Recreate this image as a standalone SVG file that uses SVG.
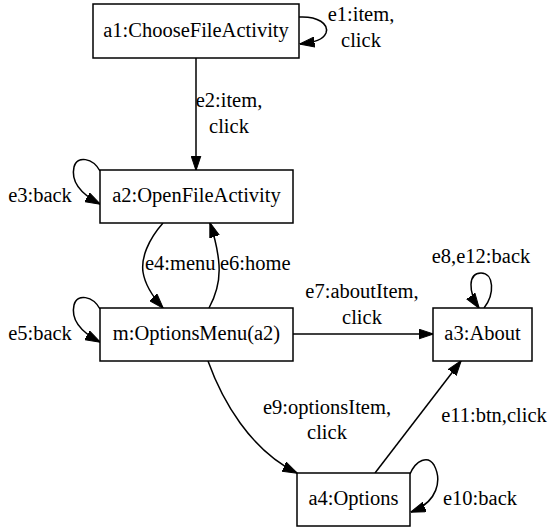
<svg xmlns="http://www.w3.org/2000/svg" width="548" height="529" viewBox="0 0 548 529">
<style>
  .node rect { fill: #ffffff; stroke: #000000; stroke-width: 1.5; }
  text { font-family: "Liberation Serif", "Times New Roman", serif; font-size: 20.5px; fill: #000000; }
  .node text { text-anchor: middle; }
  .edge path { fill: none; stroke: #000000; stroke-width: 1.5; marker-end: url(#arrow); }
  .lbl { text-anchor: middle; }
</style>
<defs>
  <marker id="arrow" markerUnits="userSpaceOnUse" markerWidth="15" markerHeight="11" viewBox="0 0 15 11" refX="14.5" refY="5.5" orient="auto">
    <path d="M0,0.5 L15,5.5 L0,10.5 z" fill="#000000" stroke="#000000" stroke-width="1"/>
  </marker>
</defs>
<rect width="548" height="529" fill="#ffffff"/>

<g id="connectors" class="edge">
  <!-- e1 self loop on a1 -->
  <path d="M299,17 C318,16 329,24 326,33 C323,40 315,42 300,44"/>
  <!-- e2 a1 -> a2 -->
  <path d="M196,58 L196,170"/>
  <!-- e3 self loop on a2 -->
  <path d="M100,171 C93,158 77,155 74,167 C71,180 79,193 100,204"/>
  <!-- e4 a2 -> m -->
  <path d="M163,223 C148,240 141,258 143,272 C145,285 153,297 163,308"/>
  <!-- e6 m -> a2 -->
  <path d="M209,308 C216,295 220,280 219,265 C218,250 215,238 210,223"/>
  <!-- e5 self loop on m -->
  <path d="M100,309 C93,296 77,293 74,305 C71,318 79,331 100,342"/>
  <!-- e7 m -> a3 -->
  <path d="M293,334 L433,334"/>
  <!-- e8,e12 self loop on a3 -->
  <path d="M484,308 C495,294 494,273 481,273 C468,273 468,292 479,308"/>
  <!-- e9 m -> a4 -->
  <path d="M208,361 C222,400 250,450 297,473"/>
  <!-- e11 a4 -> a3 -->
  <path d="M375,473 L461,361"/>
  <!-- e10 self loop on a4 -->
  <path d="M410,474 C416,460 428,455 434,465 C442,480 438,502 411,512"/>
</g>

<g id="edge-labels">
  <text class="lbl" x="361" y="21">e1:item,</text>
  <text class="lbl" x="361" y="47">click</text>
  <text class="lbl" x="229" y="107">e2:item,</text>
  <text class="lbl" x="229" y="133">click</text>
  <text class="lbl" x="40" y="202">e3:back</text>
  <text x="145" y="270">e4:menu</text>
  <text x="220" y="270">e6:home</text>
  <text class="lbl" x="40" y="340">e5:back</text>
  <text class="lbl" x="362" y="298">e7:aboutItem,</text>
  <text class="lbl" x="362" y="324">click</text>
  <text class="lbl" x="481" y="263">e8,e12:back</text>
  <text class="lbl" x="327" y="414">e9:optionsItem,</text>
  <text class="lbl" x="327" y="439">click</text>
  <text class="lbl" x="494" y="422">e11:btn,click</text>
  <text x="443" y="505">e10:back</text>
</g>

<g id="a1" class="node">
  <rect x="93" y="4" width="206" height="54"/>
  <text x="196" y="37">a1:ChooseFileActivity</text>
</g>
<g id="a2" class="node">
  <rect x="100" y="170" width="193" height="53"/>
  <text x="196.5" y="202">a2:OpenFileActivity</text>
</g>
<g id="m" class="node">
  <rect x="100" y="308" width="193" height="53"/>
  <text x="196.5" y="340">m:OptionsMenu(a2)</text>
</g>
<g id="a3" class="node">
  <rect x="433" y="308" width="99" height="53"/>
  <text x="482.5" y="340">a3:About</text>
</g>
<g id="a4" class="node">
  <rect x="297" y="473" width="113" height="53"/>
  <text x="353.5" y="505">a4:Options</text>
</g>
</svg>
